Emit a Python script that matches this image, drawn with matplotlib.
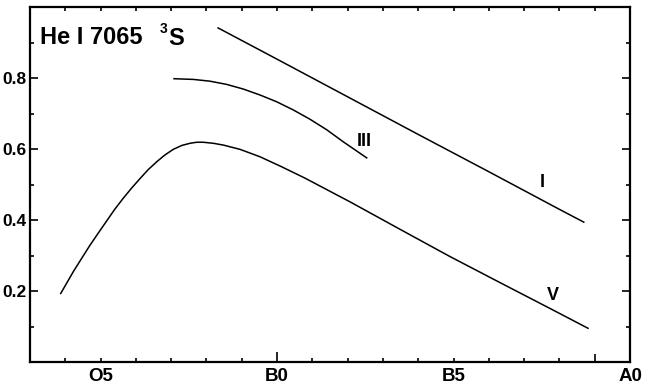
import matplotlib
matplotlib.use("Agg")
import matplotlib.pyplot as plt
from matplotlib.ticker import FixedLocator

# spectral type on a numeric scale: O5 = 5, B0 = 10, B5 = 15, A0 = 20
tipo_ticks = [5, 10, 15, 20]
tipo_labels = ["O5", "B0", "B5", "A0"]

# luminosity class V
sp_V = [3.87, 4.05, 4.23, 4.47, 4.70, 4.94, 5.17, 5.40, 5.64, 5.88, 6.12, 6.35, 6.59, 6.82,
        7.06, 7.30, 7.53, 7.72, 7.91, 8.20, 8.48, 8.95, 9.52, 10.15, 10.79, 12.07, 13.48,
        14.90, 16.31, 17.73, 18.81]
ew_V = [0.193, 0.224, 0.255, 0.293, 0.329, 0.364, 0.397, 0.430, 0.461, 0.490, 0.517, 0.542,
        0.564, 0.583, 0.599, 0.610, 0.616, 0.619, 0.619, 0.616, 0.611, 0.599, 0.578, 0.549,
        0.518, 0.451, 0.374, 0.297, 0.224, 0.151, 0.095]

# luminosity class III
sp_III = [7.08, 7.63, 8.10, 8.57, 9.04, 9.52, 9.99, 10.46, 10.93, 11.41, 11.88, 12.54]
ew_III = [0.798, 0.796, 0.791, 0.782, 0.769, 0.752, 0.733, 0.710, 0.684, 0.654, 0.620, 0.575]

# luminosity class I
sp_I = [8.33, 10.0, 12.0, 14.0, 16.0, 18.0, 18.69]
ew_I = [0.941, 0.853, 0.747, 0.641, 0.536, 0.430, 0.394]

plt.rcParams['font.family'] = ['Liberation Sans', 'DejaVu Sans']
plt.rcParams['font.weight'] = 'bold'

fig = plt.figure(figsize=(6.5, 3.86), dpi=100)
ax = fig.add_axes([30/650, 24/386, 600/650, 355/386])

ax.plot(sp_V, ew_V, color="black", lw=1.1)
ax.plot(sp_III, ew_III, color="black", lw=1.1)
ax.plot(sp_I, ew_I, color="black", lw=1.1)

ax.text(12.46, 0.622, "III", fontsize=13, fontweight="bold", ha="center", va="center")
ax.text(17.50, 0.507, "I", fontsize=13, fontweight="bold", ha="center", va="center")
ax.text(17.82, 0.188, "V", fontsize=13, fontweight="bold", ha="center", va="center")

# titulo dentro del grafico
ax.text(10/600, 0.913, "He I 7065", transform=ax.transAxes, fontsize=17,
        fontweight="bold", ha="left", va="center")
ax.text(130/600, 0.937, "3", transform=ax.transAxes, fontsize=10,
        fontweight="bold", ha="left", va="center")
ax.text(138/600, 0.91, "S", transform=ax.transAxes, fontsize=17,
        fontweight="bold", ha="left", va="center")

ax.set_xlim(3, 20)
ax.set_ylim(0, 1.0)

ax.set_xticks(tipo_ticks)
ax.set_xticklabels(tipo_labels)
ax.xaxis.set_minor_locator(FixedLocator([4, 6, 7, 8, 9, 11, 12, 13, 14, 16, 17, 18, 19]))
ax.set_yticks([0.2, 0.4, 0.6, 0.8])
ax.set_yticklabels(["0.2", "0.4", "0.6", "0.8"])
ax.yaxis.set_minor_locator(FixedLocator([0.1, 0.3, 0.5, 0.7, 0.9]))

ax.tick_params(axis="x", which="both", direction="in", top=True, length=3, width=1.2,
               labelsize=13.5, pad=4)
ax.tick_params(axis="y", which="major", direction="in", right=True, length=6, width=1.2,
               labelsize=12.5, pad=2.5)
ax.tick_params(axis="y", which="minor", direction="in", right=True, length=3, width=1.2)

for lab in ax.get_xticklabels() + ax.get_yticklabels():
    lab.set_fontweight("bold")

# marcas largas en B0 y B9
ax.xaxis.get_major_ticks()[1].tick1line.set_markersize(7)
ax.xaxis.get_minor_ticks()[12].tick1line.set_markersize(6)

for s in ax.spines.values():
    s.set_linewidth(1.6)

fig.savefig("out.png", dpi=100)
